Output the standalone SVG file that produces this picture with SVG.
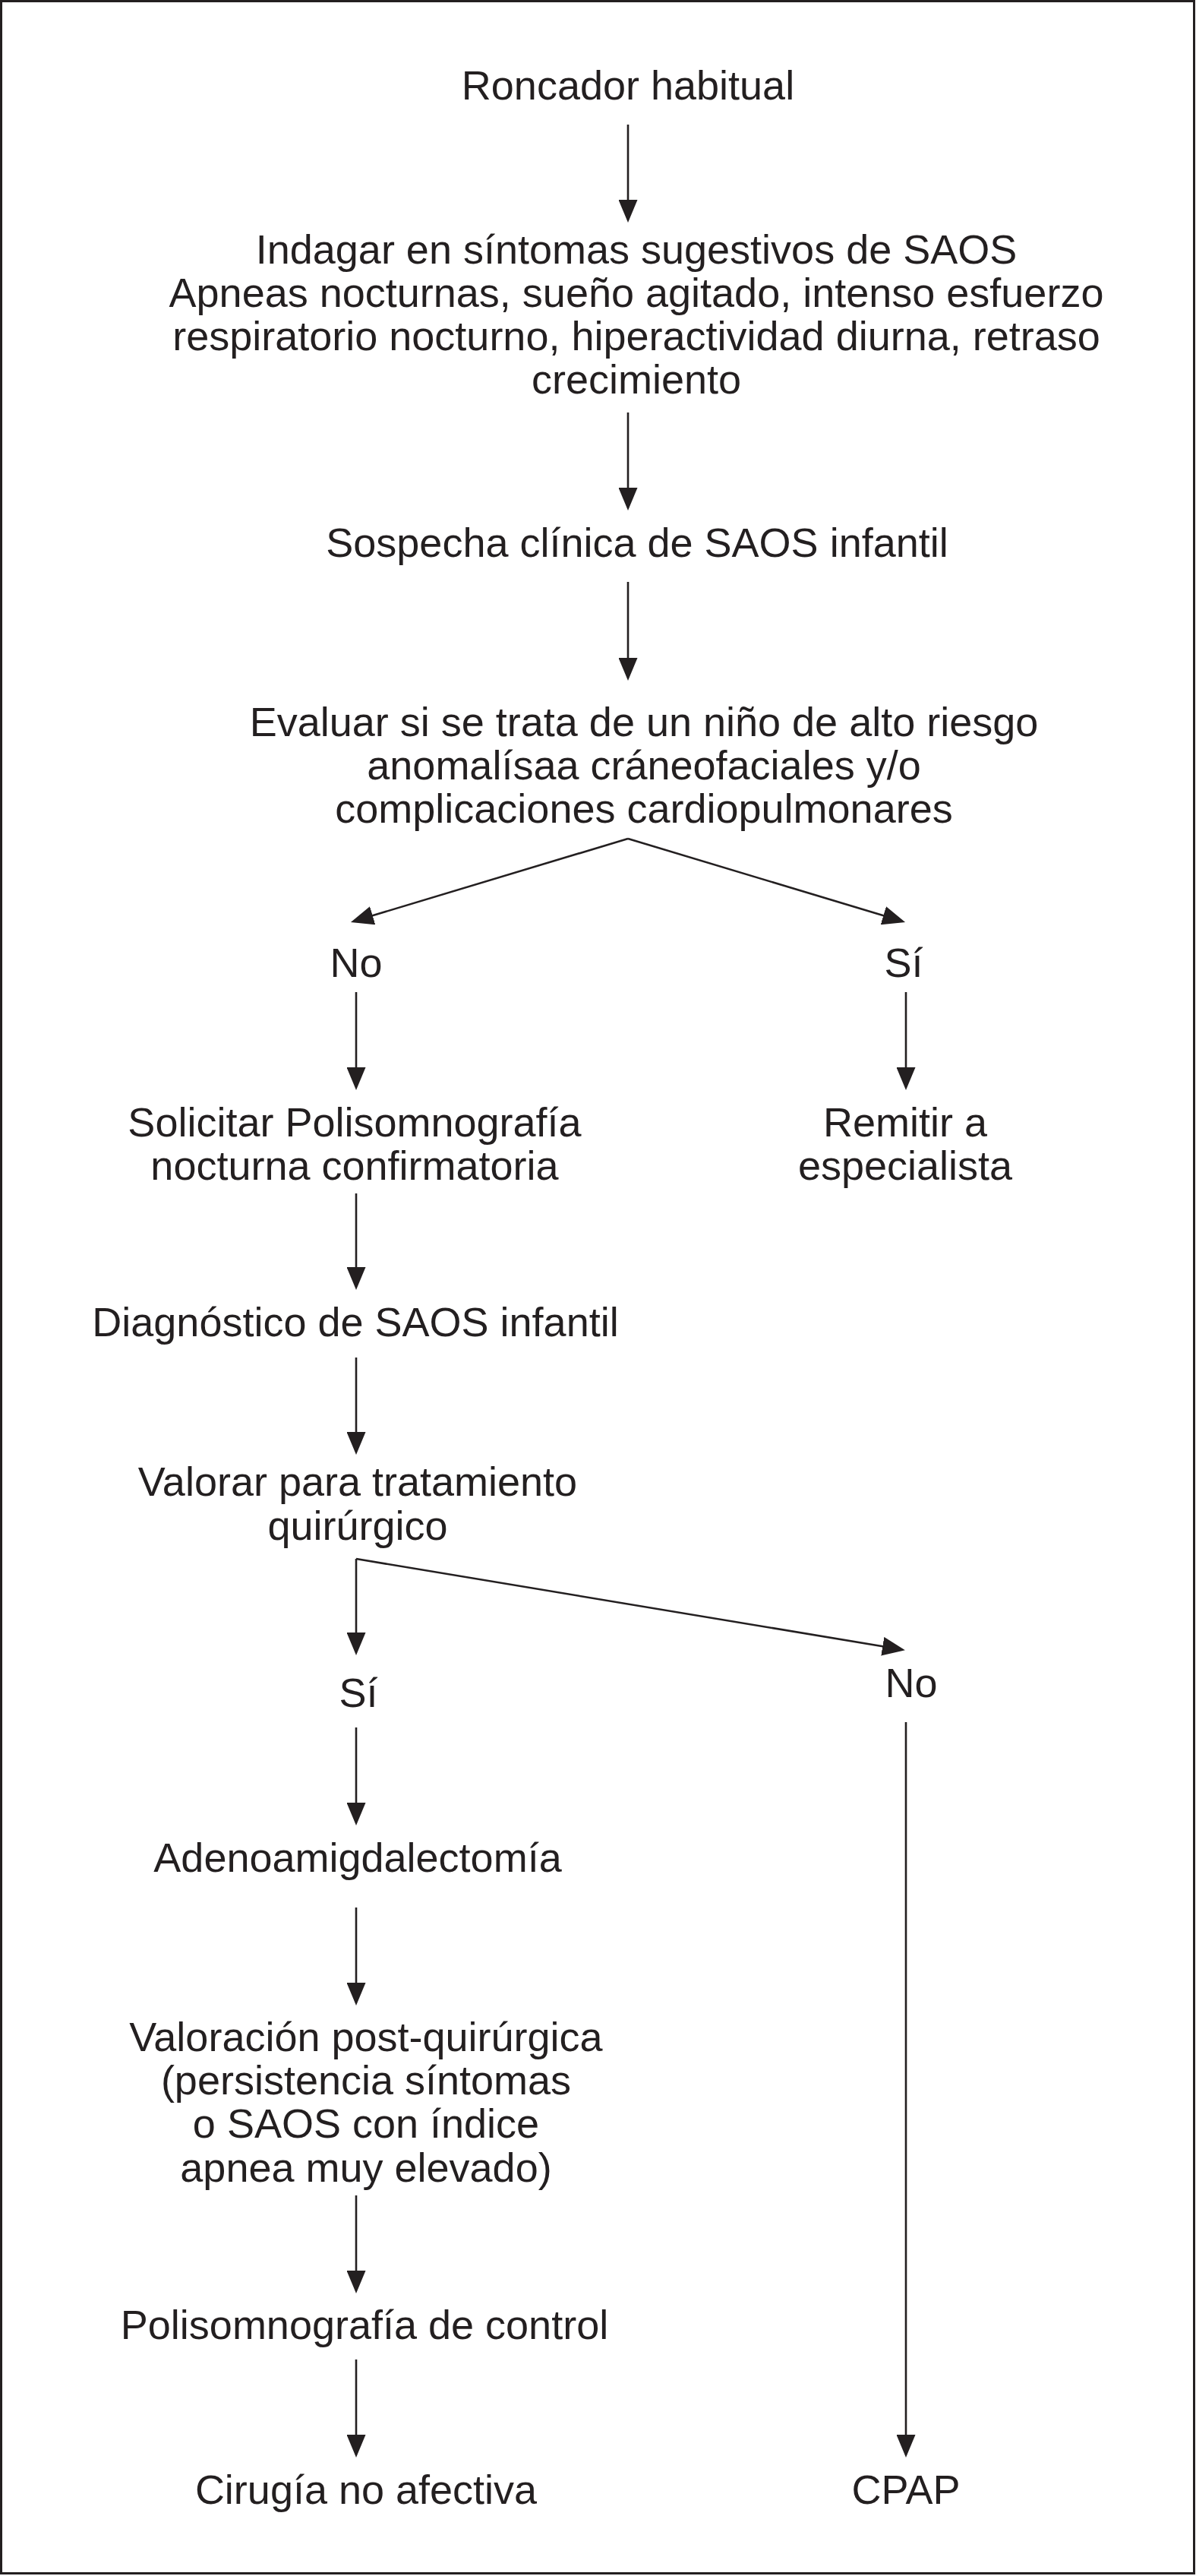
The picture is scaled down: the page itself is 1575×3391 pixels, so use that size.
<svg xmlns="http://www.w3.org/2000/svg" width="1575" height="3391" viewBox="0 0 1575 3391">
<style>
text{font-family:"Liberation Sans",Arial,Helvetica,sans-serif;font-size:54px;fill:#231f20;text-anchor:middle}
.c{stroke:#231f20;stroke-width:2.6;fill:none;marker-end:url(#ah)}
</style>
<defs>
<marker id="ah" markerUnits="userSpaceOnUse" markerWidth="30" markerHeight="25" refX="20" refY="12.5" orient="auto">
<path d="M0,0 L30,12.5 L0,25 Z" fill="#231f20"/>
</marker>
</defs>
<rect x="1.5" y="1.5" width="1571" height="3386" fill="#fff" stroke="#231f20" stroke-width="3"/>
<g id="connectors">
<line class="c" x1="827" y1="164" x2="827" y2="283"/>
<line class="c" x1="827" y1="543" x2="827" y2="662"/>
<line class="c" x1="827" y1="766" x2="827" y2="886"/>
<line class="c" x1="827" y1="1104" x2="471.5" y2="1211"/>
<line class="c" x1="827" y1="1104" x2="1182.5" y2="1211"/>
<line class="c" x1="469" y1="1306" x2="469" y2="1425"/>
<line class="c" x1="1193" y1="1306" x2="1193" y2="1425"/>
<line class="c" x1="469" y1="1571" x2="469" y2="1688"/>
<line class="c" x1="469" y1="1787" x2="469" y2="1905"/>
<line class="c" x1="469" y1="2052" x2="469" y2="2169"/>
<line class="c" x1="469" y1="2052" x2="1182" y2="2170.5"/>
<line class="c" x1="469" y1="2274" x2="469" y2="2393"/>
<line class="c" x1="469" y1="2511" x2="469" y2="2630"/>
<line class="c" x1="469" y1="2890" x2="469" y2="3009"/>
<line class="c" x1="469" y1="3106" x2="469" y2="3225"/>
<line class="c" x1="1193" y1="2267" x2="1193" y2="3225"/>
</g>
<g id="n1"><text x="827" y="131">Roncador habitual</text></g>
<g id="n2">
<text x="838" y="347">Indagar en síntomas sugestivos de SAOS</text>
<text x="838" y="404">Apneas nocturnas, sueño agitado, intenso esfuerzo</text>
<text x="838" y="461">respiratorio nocturno, hiperactividad diurna, retraso</text>
<text x="838" y="518">crecimiento</text>
</g>
<g id="n3"><text x="839" y="733">Sospecha clínica de SAOS infantil</text></g>
<g id="n4">
<text x="848" y="969">Evaluar si se trata de un niño de alto riesgo</text>
<text x="848" y="1026">anomalísaa cráneofaciales y/o</text>
<text x="848" y="1083">complicaciones cardiopulmonares</text>
</g>
<g id="n5"><text x="469" y="1286">No</text></g>
<g id="n6"><text x="1190" y="1286">Sí</text></g>
<g id="n7">
<text x="467" y="1496">Solicitar Polisomnografía</text>
<text x="467" y="1553">nocturna confirmatoria</text>
</g>
<g id="n8">
<text x="1192" y="1496">Remitir a</text>
<text x="1192" y="1553">especialista</text>
</g>
<g id="n9"><text x="468" y="1759">Diagnóstico de SAOS infantil</text></g>
<g id="n10">
<text x="471" y="1969">Valorar para tratamiento</text>
<text x="471" y="2027">quirúrgico</text>
</g>
<g id="n11"><text x="472" y="2247">Sí</text></g>
<g id="n12"><text x="1200" y="2234">No</text></g>
<g id="n13"><text x="471" y="2464">Adenoamigdalectomía</text></g>
<g id="n14">
<text x="482" y="2700">Valoración post-quirúrgica</text>
<text x="482" y="2757">(persistencia síntomas</text>
<text x="482" y="2814">o SAOS con índice</text>
<text x="482" y="2872">apnea muy elevado)</text>
</g>
<g id="n15"><text x="480" y="3079">Polisomnografía de control</text></g>
<g id="n16"><text x="482" y="3296">Cirugía no afectiva</text></g>
<g id="n17"><text x="1193" y="3296">CPAP</text></g>
</svg>
